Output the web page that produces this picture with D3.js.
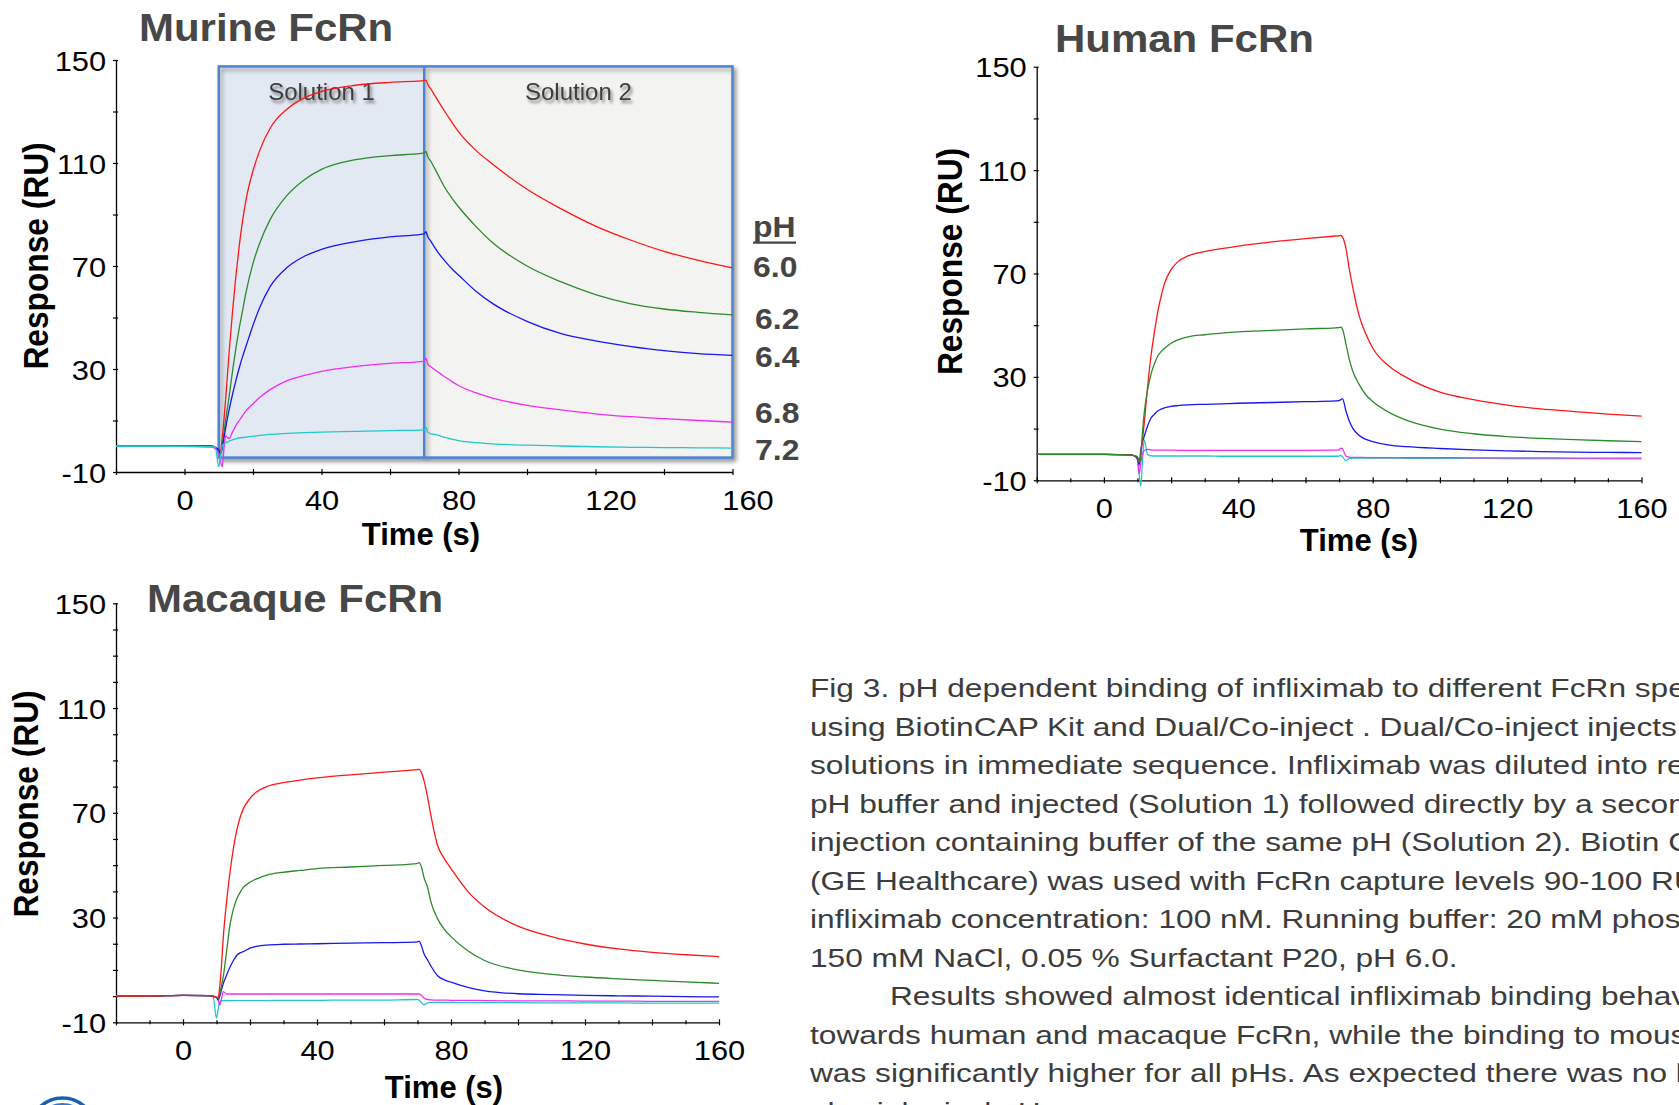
<!DOCTYPE html>
<html><head><meta charset="utf-8">
<script src="https://cdn.jsdelivr.net/npm/d3@7"></script>
<style>
html,body{margin:0;padding:0;background:#fff;overflow:hidden;}
svg{display:block;font-family:"Liberation Sans",Arial,Helvetica,sans-serif;}
</style></head><body>
<svg id="chart" width="1679" height="1105"></svg>
<script>
// ---------------- DATA ----------------
const time = [-20,-10,0,8,9,10,10.5,11,11.5,12,13,14,15,16,17,18,20,22,25,30,35,40,50,60,69,70,70.5,71,72,73,74,76,78,80,85,90,100,110,120,130,140,150,160];
const phLevels = ["6.0","6.2","6.4","6.8","7.2"];

const murine60 = [0,0,0.2,0,-0.5,-1.5,-2,3,10,18,36,52,66,78,88,96,107,115,123.5,131,135.3,137.8,140.2,141.3,141.9,142,142.2,140.6,138.6,136.4,134.2,130,126,122.2,115,109.5,99.8,92.2,85.5,80.2,75.7,72.2,69.3];
const murine62 = [0,0,0.2,0,-0.5,-2,-3,1,5,10,19,29,38,46,53,60,71,79,88,97.5,103.5,107.5,111.3,112.9,113.7,113.9,114.5,112.5,110.5,108,105.5,100.5,96.5,93,85.5,79,70,63.8,58.9,55.4,53.3,52,51];
const murine64 = [0,0,0.2,0,-0.5,-1.5,-3,-1,3,7,14,20,25.5,30.5,35,39,47,54,62,69.5,73.8,76.5,79.5,81.3,82.3,82.5,83.3,81.5,79.5,77.3,75.3,72,69,66.5,60.3,55.4,48.5,43.7,40.9,38.8,37.1,36,35.3];
const murine68 = [0,0,0,-0.3,-1,-3,-6,-8,-1,4,3,5.5,8,10,12,13.8,16.5,19,22,25.5,27.5,29.1,31,32.2,32.9,33.2,34.2,32,30.8,29.8,28.8,27,25.2,23.6,20.8,18.7,15.9,14.1,12.6,11.5,10.7,10,9.4];
const murine72 = [0,0,0,-0.2,-0.5,-8,-4,0,0.8,1.3,2,2.5,2.9,3.2,3.4,3.5,3.9,4.2,4.6,5,5.3,5.5,5.8,6.1,6.3,6.4,7.4,5.5,4.8,4.6,4.3,3.4,2.8,2.2,1.4,0.9,0.4,0.1,-0.2,-0.4,-0.5,-0.6,-0.7];

const human60 = [0,0,0,-0.2,-0.5,-1,-3,0,6,12,26,38,47,55,61,66,71.5,74.5,76.8,78.5,79.6,80.6,82.2,83.5,84.5,84.6,84.7,84.2,80,72,65,53.5,46.5,41.2,34,29.8,24.1,21.2,19.1,17.6,16.6,15.6,14.8];
const human62 = [0,0,0,-0.2,-0.5,-1,-3,0,9,16,25,31,35,38,39.8,41,43,44.3,45.5,46.3,46.9,47.4,48,48.6,49,49.1,49.2,48.5,43,37,32.5,27,23,20.5,16.2,13.3,9.8,8,6.9,6.2,5.7,5.3,5];
const human64 = [0,0,0,-0.2,-0.5,-1.5,-4,2,5,7,11,14,15.5,16.8,17.5,18,18.6,18.9,19.2,19.4,19.6,19.8,20.1,20.4,20.7,20.8,21.2,21.6,17,13,10.3,7.3,5.8,5,3.6,3,2.3,1.8,1.4,1.1,0.9,0.8,0.7];
const human68 = [0,0,0,-0.2,-0.5,-2,-7.5,-3,0,1.5,2,1.8,1.7,1.7,1.7,1.7,1.7,1.6,1.6,1.6,1.6,1.6,1.6,1.6,1.7,1.8,2.4,2.2,-0.6,-1,-1.1,-1.1,-1.2,-1.2,-1.2,-1.2,-1.2,-1.3,-1.3,-1.3,-1.4,-1.4,-1.4];
const human72 = [0,0,0,-0.2,-0.5,-2,-8,-12.2,-2,5.6,0,-0.5,-0.6,-0.6,-0.6,-0.6,-0.6,-0.6,-0.6,-0.6,-0.7,-0.7,-0.7,-0.7,-0.7,-0.6,-0.4,-0.8,-2.4,-1.6,-1.4,-1.4,-1.4,-1.4,-1.4,-1.5,-1.5,-1.5,-1.6,-1.6,-1.6,-1.7,-1.7];

const macaque60 = [0,0,0.3,0.2,0,-0.5,-0.5,4,12,22,36,47,56,63,68,71.5,75.5,78,80,81.5,82.5,83.3,84.5,85.5,86.4,86.5,86.6,85.8,82,76,69,57.5,52.5,48.7,40,34,26.7,22.7,19.9,18,16.7,15.8,15.1];
const macaque62 = [0,0,0.3,0.2,0,-0.5,-1,1,4,7.3,17,27,33,37,39.5,41.5,43.5,44.8,46.2,47.3,48,48.7,49.3,49.9,50.5,50.7,51,50,45,41.5,36,29.5,25.5,22.7,17.3,13.6,10,8.3,7.3,6.6,6,5.4,4.9];
const macaque64 = [0,0,0.3,0.2,0,-0.5,-1.5,0,2.5,4.7,8,11,13.5,15.5,16.5,17,18.3,19,19.5,19.8,19.9,20,20.2,20.4,20.6,20.7,21,19.8,16,13.8,11.5,7.8,6.2,5.3,3.3,2,0.9,0.6,0.3,0.1,0,-0.2,-0.3];
const macaque68 = [0,0,0.3,0.2,-0.2,-0.5,-1.5,-3.4,-1,1.7,0.8,0.8,0.8,0.8,0.8,0.8,0.8,0.8,0.8,0.8,0.8,0.8,0.8,0.8,0.8,0.8,0.8,0.5,-0.8,-1.3,-1.4,-1.5,-1.5,-1.6,-1.6,-1.7,-1.8,-1.8,-1.9,-1.9,-2,-2,-2];
const macaque72 = [0,0,0.3,0,-0.3,-8.5,-5,-2,-1.7,-1.7,-1.7,-1.7,-1.7,-1.7,-1.7,-1.7,-1.7,-1.7,-1.7,-1.6,-1.6,-1.6,-1.5,-1.5,-1.3,-1.3,-1.5,-2.3,-3.3,-2.6,-2.4,-2.4,-2.4,-2.4,-2.5,-2.5,-2.5,-2.6,-2.6,-2.6,-2.7,-2.7,-2.7];

const xDomain = [-20, 160];
const yDomain = [-10, 150];
const xTickLabels = [0, 40, 80, 120, 160];
const yTickLabels = [-10, 30, 70, 110, 150];

// murine two-phase injection windows
const solutionLabels = ["Solution 1", "Solution 2"];
const solutionStart = [10, 70];
const solutionEnd = [70, 160];
const solutionBoxRange = [-4.4, 147.5];

// pH annotations (murine), anchored in data units
const pHHeaderValue = 81.4;
const pHLabelValues = [65.8, 45.5, 30.8, 9.0, -5.3];
const pHLabelTime = 166;

const captionLines = [
  "Fig 3. pH dependent binding of infliximab to different FcRn species",
  "using BiotinCAP Kit and Dual/Co-inject . Dual/Co-inject injects two",
  "solutions in immediate sequence. Infliximab was diluted into relevant",
  "pH buffer and injected (Solution 1) followed directly by a second",
  "injection containing buffer of the same pH (Solution 2). Biotin CAP Kit",
  "(GE Healthcare) was used with FcRn capture levels 90-100 RU.",
  "infliximab concentration: 100 nM. Running buffer: 20 mM phosphate,",
  "150 mM NaCl, 0.05 % Surfactant P20, pH 6.0.",
  "Results showed almost identical infliximab binding behavior",
  "towards human and macaque FcRn, while the binding to mouse FcRn",
  "was significantly higher for all pHs. As expected there was no binding",
  "physiological pH."
];

// ---------------- STYLE / LAYOUT ----------------
const seriesColors = ["#ff1616", "#2b8b2b", "#1717ee", "#f22cf2", "#22c8c8"];
const SX = 1.1;

const panels = [
  { title: "Murine FcRn", titlePos: [139, 41], xr: [116, 732.5], yr: [472, 60], xStep: 20, yStep: 20,
    series: [murine60, murine62, murine64, murine68, murine72], order: [0,1,2,3,4],
    yTitlePos: [48, 256], xTitlePos: [421, 545], labelShift: {120: 15, 160: 15}, murine: true },
  { title: "Human FcRn", titlePos: [1055, 52], xr: [1036.7, 1641.5], yr: [480.3, 66.7], xStep: 10, yStep: 20,
    series: [human60, human62, human64, human68, human72], order: [4,3,2,0,1],
    yTitlePos: [962, 261.5], xTitlePos: [1359, 551], labelShift: {} },
  { title: "Macaque FcRn", titlePos: [147, 612], xr: [116, 719], yr: [1022.3, 603.3], xStep: 10, yStep: 10,
    series: [macaque60, macaque62, macaque64, macaque68, macaque72], order: [4,3,2,1,0],
    yTitlePos: [38, 804], xTitlePos: [444, 1098], labelShift: {} }
];

const svg = d3.select("#chart");
const defs = svg.append("defs");
defs.append("filter").attr("id", "boxShadow")
  .attr("x", "-10%").attr("y", "-10%").attr("width", "125%").attr("height", "125%")
  .append("feDropShadow").attr("dx", 2.5).attr("dy", 3).attr("stdDeviation", 2.2)
  .attr("flood-color", "#000").attr("flood-opacity", 0.35);
defs.append("filter").attr("id", "textShadow")
  .attr("x", "-20%").attr("y", "-40%").attr("width", "140%").attr("height", "200%")
  .append("feDropShadow").attr("dx", 2).attr("dy", 3).attr("stdDeviation", 1.8)
  .attr("flood-color", "#000").attr("flood-opacity", 0.45);

panels.forEach(p => {
  const x = d3.scaleLinear().domain(xDomain).range(p.xr);
  const y = d3.scaleLinear().domain(yDomain).range(p.yr);
  const g = svg.append("g");

  // Murine solution boxes
  if (p.murine) {
    const box = g.append("g");
    const shadowG = box.append("g").attr("filter", "url(#boxShadow)");
    shadowG.append("rect")
      .attr("x", x(solutionStart[0])).attr("y", y(solutionBoxRange[1]))
      .attr("width", x(solutionEnd[1]) - x(solutionStart[0]))
      .attr("height", y(solutionBoxRange[0]) - y(solutionBoxRange[1]))
      .attr("fill", "#f3f3f1");
    box.append("rect")
      .attr("x", x(solutionStart[0])).attr("y", y(solutionBoxRange[1]))
      .attr("width", x(solutionEnd[0]) - x(solutionStart[0]))
      .attr("height", y(solutionBoxRange[0]) - y(solutionBoxRange[1]))
      .attr("fill", "#e3e9f3");
    const outline = box.append("g").attr("filter", "url(#boxShadow)");
    outline.append("rect")
      .attr("x", x(solutionStart[0])).attr("y", y(solutionBoxRange[1]))
      .attr("width", x(solutionEnd[1]) - x(solutionStart[0]))
      .attr("height", y(solutionBoxRange[0]) - y(solutionBoxRange[1]))
      .attr("fill", "none").attr("stroke", "#4d84d2").attr("stroke-width", 2.5);
    outline.append("line")
      .attr("x1", x(solutionStart[1])).attr("x2", x(solutionStart[1]))
      .attr("y1", y(solutionBoxRange[1])).attr("y2", y(solutionBoxRange[0]))
      .attr("stroke", "#4d84d2").attr("stroke-width", 2.5);
    solutionLabels.forEach((lab, i) => {
      box.append("text")
        .attr("x", x((solutionStart[i] + solutionEnd[i]) / 2))
        .attr("y", y(solutionBoxRange[1]) + 33.6)
        .attr("text-anchor", "middle")
        .attr("font-size", 24).attr("fill", "#3e3e3e")
        .attr("filter", "url(#textShadow)")
        .text(lab);
    });
  }

  // X axis
  const xTicks = d3.range(xDomain[0], xDomain[1] + 0.1, p.xStep);
  const xAxis = d3.axisBottom(x).tickValues(xTicks).tickSizeOuter(0).tickSizeInner(3)
    .tickFormat(d => xTickLabels.includes(d) ? String(d) : "");
  const gx = g.append("g").attr("transform", `translate(0,${p.yr[0]})`).call(xAxis);
  gx.attr("color", "#000");
  gx.select(".domain").attr("stroke-width", 1.3);
  gx.selectAll(".tick line").attr("y1", d => d % 20 === 0 ? -3 : -2).attr("y2", d => d % 20 === 0 ? 3 : 2).attr("stroke-width", 1.2);
  gx.selectAll(".tick text")
    .attr("font-family", '"Liberation Sans", Arial, sans-serif')
    .attr("font-size", 28).attr("fill", "#000")
    .attr("y", 38).attr("dy", null)
    .attr("x", d => (p.labelShift[d] || 0) / SX)
    .attr("transform", `scale(${SX},1)`);

  // Y axis
  const yTicks = d3.range(yDomain[0], yDomain[1] + 0.1, p.yStep);
  const yAxis = d3.axisLeft(y).tickValues(yTicks).tickSizeOuter(0).tickSizeInner(3)
    .tickFormat(d => yTickLabels.includes(d) ? String(d) : "");
  const gy = g.append("g").attr("transform", `translate(${p.xr[0]},0)`).call(yAxis);
  gy.attr("color", "#000");
  gy.select(".domain").attr("stroke-width", 1.3);
  gy.selectAll(".tick line").attr("x1", -3).attr("x2", 2).attr("stroke-width", 1.2);
  gy.selectAll(".tick text")
    .attr("font-family", '"Liberation Sans", Arial, sans-serif')
    .attr("font-size", 28).attr("fill", "#000")
    .attr("x", -10 / SX).attr("dy", "0.36em")
    .attr("transform", `scale(${SX},1)`);

  // Series
  const line = d3.line().x((d, i) => x(time[i])).y(d => y(d)).curve(d3.curveMonotoneX);
  p.order.forEach(si => {
    g.append("path").datum(p.series[si])
      .attr("d", line).attr("fill", "none")
      .attr("stroke", seriesColors[si]).attr("stroke-width", 1.3)
      .attr("stroke-linejoin", "round");
  });

  // Titles
  g.append("text")
    .attr("transform", `translate(${p.titlePos[0]},${p.titlePos[1]}) scale(1.105,1)`)
    .attr("font-size", 38).attr("font-weight", "bold").attr("fill", "#474747")
    .text(p.title);
  g.append("text")
    .attr("transform", `translate(${p.yTitlePos[0]},${p.yTitlePos[1]}) rotate(-90) scale(1,1.08)`)
    .attr("text-anchor", "middle")
    .attr("font-size", 31.7).attr("font-weight", "bold").attr("fill", "#000")
    .text("Response (RU)");
  g.append("text")
    .attr("x", p.xTitlePos[0]).attr("y", p.xTitlePos[1])
    .attr("text-anchor", "middle")
    .attr("font-size", 31).attr("font-weight", "bold").attr("fill", "#000")
    .text("Time (s)");

  // pH legend (murine)
  if (p.murine) {
    const lx = x(pHLabelTime);
    g.append("text")
      .attr("transform", `translate(${lx},${y(pHHeaderValue)}) scale(${SX},1)`)
      .attr("font-size", 29).attr("font-weight", "bold").attr("fill", "#454545")
      .text("pH");
    g.append("line")
      .attr("x1", lx).attr("x2", lx + 43)
      .attr("y1", y(pHHeaderValue) + 6).attr("y2", y(pHHeaderValue) + 6)
      .attr("stroke", "#454545").attr("stroke-width", 2.2);
    phLevels.forEach((lab, i) => {
      g.append("text")
        .attr("transform", `translate(${lx + (i ? 2 : 0)},${y(pHLabelValues[i])}) scale(${SX},1)`)
        .attr("font-size", 29).attr("font-weight", "bold").attr("fill", "#454545")
        .text(lab);
    });
  }
});

// Caption text
const CAP_SX = 1.2;
const cap = svg.append("g").attr("transform", `translate(810,697) scale(${CAP_SX},1)`);
captionLines.forEach((ln, i) => {
  cap.append("text")
    .attr("x", i === 8 ? 80 / CAP_SX : 0)
    .attr("y", i * 38.55)
    .attr("font-size", 26.4).attr("fill", "#3c3c3c")
    .text(ln);
});

// partial logo at bottom-left
const logo = svg.append("g");
logo.append("circle").attr("cx", 62.5).attr("cy", 1131).attr("r", 33)
  .attr("fill", "none").attr("stroke", "#1b5fb0").attr("stroke-width", 3.5);
logo.append("circle").attr("cx", 62.5).attr("cy", 1131).attr("r", 27)
  .attr("fill", "none").attr("stroke", "#2f7ad0").attr("stroke-width", 2);
</script>
</body></html>
